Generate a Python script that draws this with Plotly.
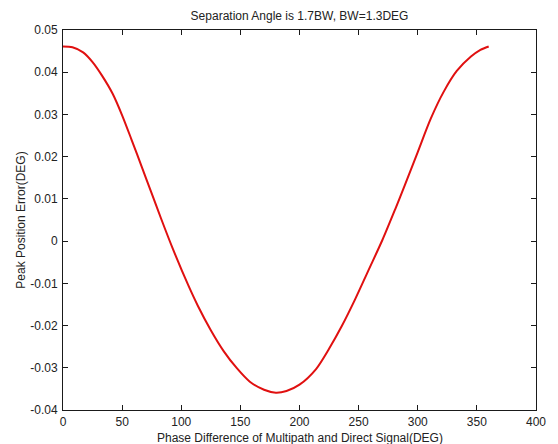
import plotly.graph_objects as go

# Phase difference (deg) and peak position error (deg)
phase_deg = [0, 8, 17, 25, 33, 42, 50, 58, 67, 75, 83, 93, 106, 114, 125, 136,
             147, 158, 170, 180, 189, 200, 214, 225, 236, 247, 258, 270, 281,
             289, 300, 311, 322, 333, 345, 353, 360]
peak_err = [0.0461, 0.0459, 0.0447, 0.0424, 0.0392, 0.0349, 0.0298, 0.0240,
            0.0173, 0.0113, 0.0053, -0.0019, -0.0105, -0.0153, -0.0211, -0.0261,
            -0.0301, -0.0333, -0.0352, -0.0359, -0.0355, -0.0340, -0.0303,
            -0.0255, -0.0200, -0.0138, -0.0071, 0.0002, 0.0076, 0.0132, 0.0211,
            0.0290, 0.0354, 0.0403, 0.0437, 0.0453, 0.0461]

x_ticks = [0, 50, 100, 150, 200, 250, 300, 350, 400]
y_ticks = [-0.04, -0.03, -0.02, -0.01, 0, 0.01, 0.02, 0.03, 0.04, 0.05]
y_tick_text = ["-0.04", "-0.03", "-0.02", "-0.01", "0", "0.01", "0.02",
               "0.03", "0.04", "0.05"]

font_family = "Liberation Sans, Arial, sans-serif"
axis_color = "#1a1a1a"
text_color = "#222222"

fig = go.Figure()
fig.add_trace(go.Scatter(
    x=phase_deg, y=peak_err, mode="lines",
    line=dict(color="#e01010", width=2, shape="spline", smoothing=0.8),
    showlegend=False,
))

common_axis = dict(
    showline=True, linecolor=axis_color, linewidth=1, mirror="ticks",
    ticks="inside", ticklen=5, tickcolor=axis_color, tickwidth=1,
    showgrid=False, zeroline=False,
    tickfont=dict(family=font_family, size=12, color=text_color),
)

plot_h = 444 - 30 - 34

fig.update_layout(
    width=558, height=444,
    margin=dict(l=63, r=14, t=30, b=34),
    paper_bgcolor="white", plot_bgcolor="white",
    font=dict(family=font_family, size=12, color=text_color),
    title=dict(
        text="Separation Angle is 1.7BW, BW=1.3DEG",
        x=0.5, xref="paper", xanchor="center",
        y=1 - 16 / 444, yref="container", yanchor="middle",
        font=dict(family=font_family, size=12, color=text_color),
    ),
    xaxis=dict(range=[0, 400], tickvals=x_ticks, ticklabelstandoff=1,
               **common_axis),
    yaxis=dict(range=[-0.04, 0.05], tickvals=y_ticks, ticktext=y_tick_text,
               ticklabelstandoff=2, **common_axis),
    annotations=[
        dict(text="Phase Difference of Multipath and Direct Signal(DEG)",
             xref="paper", yref="paper", x=0.5, y=-28 / plot_h,
             xanchor="center", yanchor="middle", showarrow=False,
             font=dict(family=font_family, size=12, color=text_color)),
        dict(text="Peak Position Error(DEG)", textangle=-90,
             xref="paper", yref="paper", x=-43 / 481, y=0.5,
             xanchor="center", yanchor="middle", showarrow=False,
             font=dict(family=font_family, size=12, color=text_color)),
    ],
)

fig.write_html("out.html")
